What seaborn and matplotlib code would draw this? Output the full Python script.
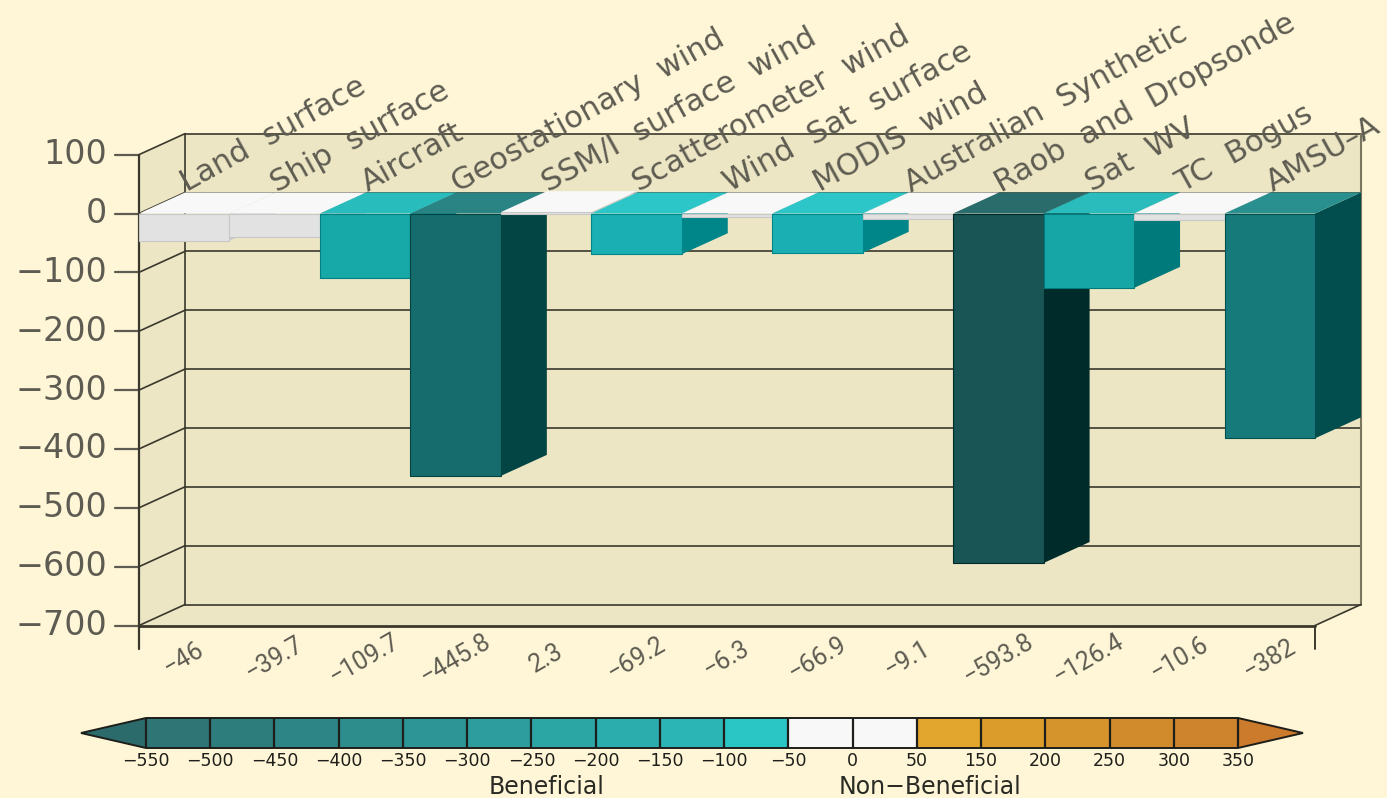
import matplotlib
matplotlib.use('Agg')
import matplotlib.pyplot as plt
import matplotlib.colors as mcolors
from matplotlib.cm import ScalarMappable
import pandas as pd
import seaborn as sns

# --- data ---
categories = ['Land  surface', 'Ship  surface', 'Aircraft', 'Geostationary  wind',
              'SSM/I  surface  wind', 'Scatterometer  wind', 'Wind  Sat  surface',
              'MODIS  wind', 'Australian  Synthetic', 'Raob  and  Dropsonde',
              'Sat  WV', 'TC  Bogus', 'AMSU\u2013A']
values = [-46, -39.7, -109.7, -445.8, 2.3, -69.2, -6.3, -66.9, -9.1, -593.8, -126.4, -10.6, -382]
value_labels = ['\u221246', '\u221239.7', '\u2212109.7', '\u2212445.8', '2.3', '\u221269.2', '\u22126.3',
                '\u221266.9', '\u22129.1', '\u2212593.8', '\u2212126.4', '\u221210.6', '\u2212382']
front_colors = ['#E2E2E2', '#E2E2E2', '#17A8A8', '#166C6C', '#E2E2E2', '#1AB0B3', '#E2E2E2',
                '#1AB0B3', '#E2E2E2', '#195555', '#17A6A6', '#E2E2E2', '#177A7A']
top_colors = ['#F8F8F8', '#F8F8F8', '#29BCBC', '#2A8484', '#F8F8F8', '#2CC5C8', '#F8F8F8',
              '#2CC5C8', '#F8F8F8', '#2A6B6B', '#2ABCBC', '#F8F8F8', '#2A8F8F']
side_colors = ['#C8C8C8', '#C8C8C8', '#008080', '#034444', '#C8C8C8', '#008588', '#C8C8C8',
               '#008588', '#C8C8C8', '#002B2B', '#007A7A', '#C8C8C8', '#024E4E']
y_ticks = [100, 0, -100, -200, -300, -400, -500, -600, -700]
y_tick_labels = ['100', '0', '\u2212100', '\u2212200', '\u2212300', '\u2212400', '\u2212500', '\u2212600', '\u2212700']

cbar_bounds = [-550, -500, -450, -400, -350, -300, -250, -200, -150, -100, -50, 0, 50, 150, 200, 250, 300, 350]
cbar_colors = ['#2F7575', '#2E7D7D', '#2D8585', '#2D8D8D', '#2D9595', '#2D9D9D', '#2CA5A5', '#2BADAD',
               '#2BB5B5', '#2AC5C5', '#F8F8F8', '#F8F8F8', '#E2A52D', '#DC9C2C', '#D6942C', '#D28B2C', '#CE842C']
cbar_under = '#2B6B6B'
cbar_over = '#CC7A2B'

BG = '#FEF6D6'
WALL = '#ECE6C4'
LINE = '#3A382C'
TEXT = '#5E5C52'

sns.set_theme(style='white')
plt.rcParams['font.family'] = ['DejaVu Sans']

fig = plt.figure(figsize=(13.87, 7.98), dpi=100, facecolor=BG)
ax = fig.add_axes([0, 0, 1, 1])

df = pd.DataFrame({'source': categories, 'impact': values})
sns.barplot(data=df, x='source', y='impact', hue='source', order=categories, hue_order=categories,
            palette=front_colors, saturation=1, width=1, legend=False, ax=ax)
bars = list(ax.patches)

# pixel geometry of the "3D" box expressed in axis units
bar_px = 90.46
unit_px = 0.5886
x0 = -0.5 - 139 / bar_px
y_top = 213.5 / unit_px
ax.set_xlim(x0, x0 + 1387 / bar_px)
ax.set_ylim(y_top - 798 / unit_px, y_top)
ax.axis('off')
depth_x = 46 / bar_px
depth_y = 21 / unit_px
left, right = -0.5, 12.5
low, high = y_ticks[-1], y_ticks[0]

# walls and floor
ax.fill([left, left + depth_x, left + depth_x, left], [low, low + depth_y, high + depth_y, high],
        color=WALL, lw=0, zorder=0)
ax.fill([left + depth_x, right + depth_x, right + depth_x, left + depth_x],
        [low + depth_y, low + depth_y, high + depth_y, high + depth_y], color=WALL, lw=0, zorder=0)
ax.fill([left, right, right + depth_x, left + depth_x], [low, low, low + depth_y, low + depth_y],
        color=WALL, lw=0, zorder=0)

# grid lines, wall diagonals and ticks
for t in y_ticks:
    ax.plot([left + depth_x, right + depth_x], [t + depth_y, t + depth_y], color=LINE, lw=1.2, zorder=1)
    ax.plot([left, left + depth_x], [t, t + depth_y], color=LINE, lw=1.2, zorder=1)
    ax.plot([left - 24 / bar_px, left], [t, t], color=TEXT, lw=1.6, zorder=1)
for t, lab in zip(y_ticks, y_tick_labels):
    ax.text(left - 32 / bar_px, t, lab, ha='right', va='center', fontsize=24, color=TEXT)
ax.plot([left, left], [low - 23 / unit_px, high], color=LINE, lw=1.6, zorder=1)
ax.plot([left + depth_x, left + depth_x], [low + depth_y, high + depth_y], color=LINE, lw=1.2, zorder=1)
ax.plot([right + depth_x, right + depth_x], [low + depth_y, high + depth_y], color='#7A7660', lw=1.5, zorder=1)
ax.plot([right, right], [low - 23 / unit_px, low], color=LINE, lw=1.4, zorder=1)
ax.plot([right, right + depth_x], [low, low + depth_y], color=LINE, lw=1.2, zorder=1)
ax.plot([left, right], [low, low], color=LINE, lw=2, zorder=1)

# top and side faces come from the bars seaborn drew
for i, bar in enumerate(bars):
    xa = bar.get_x()
    xb = xa + bar.get_width()
    y_lo = min(bar.get_y(), bar.get_y() + bar.get_height())
    y_hi = max(bar.get_y(), bar.get_y() + bar.get_height())
    bar.set_zorder(3 + i)
    bar.set_edgecolor(side_colors[i])
    bar.set_linewidth(0.8)
    ax.fill([xa, xb, xb + depth_x, xa + depth_x], [y_hi, y_hi, y_hi + depth_y, y_hi + depth_y],
            color=top_colors[i], lw=0, zorder=2.9 + i)
    ax.fill([xb, xb + depth_x, xb + depth_x, xb], [y_hi, y_hi + depth_y, y_lo + depth_y, y_lo],
            color=side_colors[i], lw=0, zorder=2.8 + i)

# rotated labels
for i, (name, val) in enumerate(zip(categories, value_labels)):
    ax.text(i + 0.03, 36, name, rotation=29, rotation_mode='anchor', ha='left', va='baseline',
            fontsize=22, color=TEXT, zorder=30)
    ax.text(i, low - 56, val, rotation=30, ha='center', va='center', fontsize=18, color=TEXT,
            family=['Roboto', 'DejaVu Sans'], zorder=30)

# colour bar, the axes includes both end triangles
cax = fig.add_axes([81 / 1387, 1 - 748 / 798, 1222 / 1387, 30 / 798])
cmap = mcolors.ListedColormap(cbar_colors).with_extremes(under=cbar_under, over=cbar_over)
norm = mcolors.BoundaryNorm(cbar_bounds, cmap.N)
cb = fig.colorbar(ScalarMappable(norm=norm, cmap=cmap), cax=cax, orientation='horizontal',
                  extend='both', extendfrac=65 / 1092, spacing='uniform', drawedges=True,
                  ticks=cbar_bounds)
cb.set_ticklabels([str(b).replace('-', '\u2212') for b in cbar_bounds])
cb.ax.tick_params(length=0, pad=3, labelsize=12.5, labelcolor='#1E1E1A')
cb.outline.set_edgecolor('#1E1E1A')
cb.outline.set_linewidth(1.4)
cb.dividers.set_color('#1E1E1A')
cb.dividers.set_linewidth(1.6)

fig.text(547 / 1387, 1 - 787 / 798, 'Beneficial', ha='center', va='center', fontsize=17, color='#2A2A24')
fig.text(930 / 1387, 1 - 787 / 798, 'Non\u2212Beneficial', ha='center', va='center', fontsize=17, color='#2A2A24')

fig.savefig('out.png', dpi=100, facecolor=BG)
